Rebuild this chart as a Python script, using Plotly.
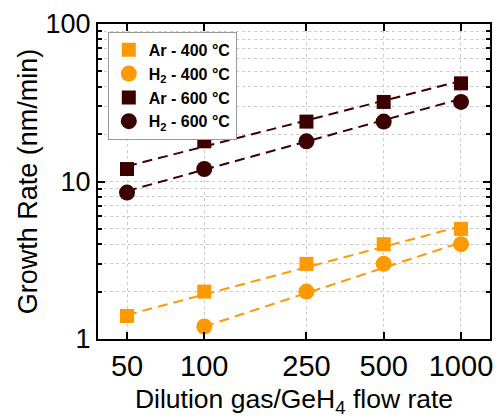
import plotly.graph_objects as go

# Data
flow = [50, 100, 250, 500, 1000]
ar_400 = [1.4, 2.0, 3.0, 4.0, 5.0]
h2_400_x = [100, 250, 500, 1000]
h2_400 = [1.2, 2.0, 3.0, 4.0]
ar_600 = [12, 18, 24, 32, 42]
h2_600 = [8.5, 12, 18, 24, 32]

# Fit-line endpoints
ar_400_fit_x = [50, 1000]
ar_400_fit = [1.42, 5.2]
h2_400_fit_x = [100, 1000]
h2_400_fit = [1.2, 4.1]
ar_600_fit_x = [50, 1000]
ar_600_fit = [12.5, 43.5]
h2_600_fit_x = [50, 1000]
h2_600_fit = [8.7, 33.5]

x_ticks = [50, 100, 250, 500, 1000]
y_ticks = [1, 10, 100]
y_minor = [2, 3, 4, 5, 6, 7, 8, 9, 20, 30, 40, 50, 60, 70, 80, 90]

ORANGE = "#FF9900"
DARK = "#3D0000"
FONT = "Liberation Sans"

fig = go.Figure()

for fx, fy, col in [(ar_400_fit_x, ar_400_fit, ORANGE), (h2_400_fit_x, h2_400_fit, ORANGE),
                    (ar_600_fit_x, ar_600_fit, DARK), (h2_600_fit_x, h2_600_fit, DARK)]:
    fig.add_trace(go.Scatter(x=fx, y=fy, mode="lines", showlegend=False, hoverinfo="skip",
                             line=dict(color=col, width=2, dash="10px,6px")))

series = [
    (flow, ar_400, "square", 14, ORANGE, "Ar - 400 °C"),
    (h2_400_x, h2_400, "circle", 16, ORANGE, "H<sub>2</sub> - 400 °C"),
    (flow, ar_600, "square", 14, DARK, "Ar - 600 °C"),
    (flow, h2_600, "circle", 16, DARK, "H<sub>2</sub> - 600 °C"),
]
for xs, ys, sym, sz, col, name in series:
    fig.add_trace(go.Scatter(x=xs, y=ys, mode="markers", name=name,
                             marker=dict(symbol=sym, size=sz, color=col, line=dict(width=0))))

axis_common = dict(
    type="log", showline=True, linecolor="black", linewidth=2, mirror="allticks",
    ticks="inside", ticklen=7, tickwidth=2, tickcolor="black",
    showgrid=True, gridcolor="#cccccc", gridwidth=1, griddash="dot",
    zeroline=False,
)

fig.update_xaxes(**axis_common, range=[1.586, 3.113], tickmode="array", tickvals=x_ticks,
                 ticktext=[str(v) for v in x_ticks],
                 tickfont=dict(family=FONT, size=29, color="black"),
                 title=dict(text="Dilution gas/GeH<sub>4</sub> flow rate",
                            font=dict(family=FONT, size=26.5, color="black"), standoff=12))
fig.update_yaxes(**axis_common, range=[0, 2], tickmode="array", tickvals=y_ticks,
                 ticktext=[str(v) for v in y_ticks],
                 tickfont=dict(family=FONT, size=27, color="black"),
                 minor=dict(tickmode="array", tickvals=y_minor, ticks="inside", ticklen=4,
                            tickwidth=1.5, tickcolor="black", showgrid=True,
                            gridcolor="#cccccc", gridwidth=1, griddash="dot"),
                 title=dict(text="Growth Rate (nm/min)",
                            font=dict(family=FONT, size=27, color="black"), standoff=0))

fig.update_layout(
    width=499, height=418,
    margin=dict(l=98, r=6, t=24, b=78),
    paper_bgcolor="white", plot_bgcolor="white",
    legend=dict(x=0.025, y=0.975, xanchor="left", yanchor="top",
                bgcolor="white", bordercolor="#999999", borderwidth=1,
                font=dict(family=FONT, size=16, color="black", weight="bold"),
                tracegroupgap=0, itemsizing="trace"),
    font=dict(family=FONT),
)

fig.write_html("out.html")
